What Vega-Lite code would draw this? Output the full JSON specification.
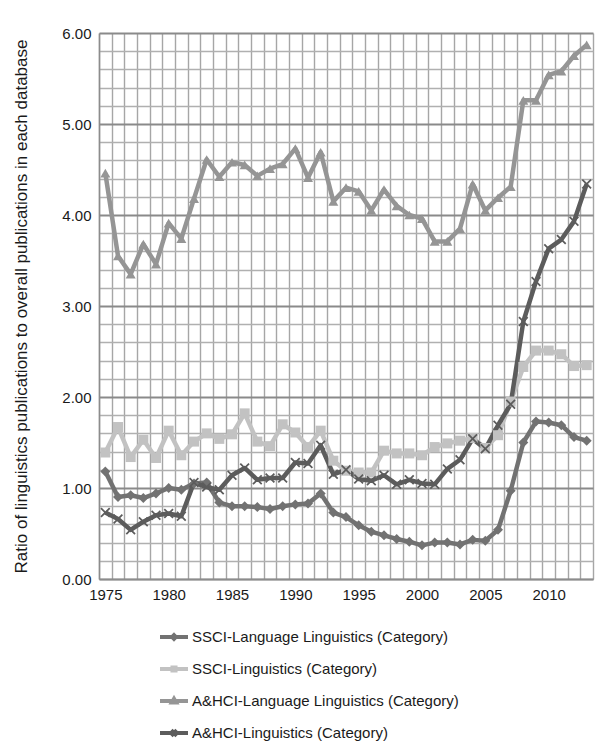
{
  "$schema": "https://vega.github.io/schema/vega-lite/v6.json",
  "width": 494,
  "height": 546,
  "autosize": {"type": "none"},
  "padding": {"left": 99, "top": 33, "right": 10, "bottom": 176},
  "background": "white",
  "config": {
    "font": "Arial",
    "view": {"stroke": null},
    "axis": {"labelFont": "Arial", "titleFont": "Arial", "labelColor": "#1a1a1a", "titleColor": "#1a1a1a"},
    "legend": {"labelFont": "Arial"}
  },
  "data": {
    "values": [
      {"year":1975,"SSCI-Language Linguistics (Category)":1.18,"SSCI-Linguistics (Category)":1.39,"A&HCI-Language Linguistics (Category)":4.46,"A&HCI-Linguistics (Category)":0.73},
      {"year":1976,"SSCI-Language Linguistics (Category)":0.90,"SSCI-Linguistics (Category)":1.67,"A&HCI-Language Linguistics (Category)":3.55,"A&HCI-Linguistics (Category)":0.66},
      {"year":1977,"SSCI-Language Linguistics (Category)":0.92,"SSCI-Linguistics (Category)":1.34,"A&HCI-Language Linguistics (Category)":3.35,"A&HCI-Linguistics (Category)":0.54},
      {"year":1978,"SSCI-Language Linguistics (Category)":0.89,"SSCI-Linguistics (Category)":1.53,"A&HCI-Language Linguistics (Category)":3.68,"A&HCI-Linguistics (Category)":0.63},
      {"year":1979,"SSCI-Language Linguistics (Category)":0.94,"SSCI-Linguistics (Category)":1.33,"A&HCI-Language Linguistics (Category)":3.46,"A&HCI-Linguistics (Category)":0.70},
      {"year":1980,"SSCI-Language Linguistics (Category)":1.00,"SSCI-Linguistics (Category)":1.63,"A&HCI-Language Linguistics (Category)":3.91,"A&HCI-Linguistics (Category)":0.72},
      {"year":1981,"SSCI-Language Linguistics (Category)":0.98,"SSCI-Linguistics (Category)":1.36,"A&HCI-Language Linguistics (Category)":3.74,"A&HCI-Linguistics (Category)":0.69},
      {"year":1982,"SSCI-Language Linguistics (Category)":1.05,"SSCI-Linguistics (Category)":1.51,"A&HCI-Language Linguistics (Category)":4.18,"A&HCI-Linguistics (Category)":1.06},
      {"year":1983,"SSCI-Language Linguistics (Category)":1.06,"SSCI-Linguistics (Category)":1.60,"A&HCI-Language Linguistics (Category)":4.61,"A&HCI-Linguistics (Category)":1.01},
      {"year":1984,"SSCI-Language Linguistics (Category)":0.84,"SSCI-Linguistics (Category)":1.54,"A&HCI-Language Linguistics (Category)":4.42,"A&HCI-Linguistics (Category)":0.98},
      {"year":1985,"SSCI-Language Linguistics (Category)":0.80,"SSCI-Linguistics (Category)":1.59,"A&HCI-Language Linguistics (Category)":4.58,"A&HCI-Linguistics (Category)":1.14},
      {"year":1986,"SSCI-Language Linguistics (Category)":0.80,"SSCI-Linguistics (Category)":1.82,"A&HCI-Language Linguistics (Category)":4.55,"A&HCI-Linguistics (Category)":1.22},
      {"year":1987,"SSCI-Language Linguistics (Category)":0.79,"SSCI-Linguistics (Category)":1.51,"A&HCI-Language Linguistics (Category)":4.43,"A&HCI-Linguistics (Category)":1.09},
      {"year":1988,"SSCI-Language Linguistics (Category)":0.77,"SSCI-Linguistics (Category)":1.46,"A&HCI-Language Linguistics (Category)":4.51,"A&HCI-Linguistics (Category)":1.11},
      {"year":1989,"SSCI-Language Linguistics (Category)":0.80,"SSCI-Linguistics (Category)":1.70,"A&HCI-Language Linguistics (Category)":4.56,"A&HCI-Linguistics (Category)":1.11},
      {"year":1990,"SSCI-Language Linguistics (Category)":0.82,"SSCI-Linguistics (Category)":1.61,"A&HCI-Language Linguistics (Category)":4.73,"A&HCI-Linguistics (Category)":1.28},
      {"year":1991,"SSCI-Language Linguistics (Category)":0.83,"SSCI-Linguistics (Category)":1.45,"A&HCI-Language Linguistics (Category)":4.41,"A&HCI-Linguistics (Category)":1.27},
      {"year":1992,"SSCI-Language Linguistics (Category)":0.94,"SSCI-Linguistics (Category)":1.63,"A&HCI-Language Linguistics (Category)":4.69,"A&HCI-Linguistics (Category)":1.47},
      {"year":1993,"SSCI-Language Linguistics (Category)":0.73,"SSCI-Linguistics (Category)":1.30,"A&HCI-Language Linguistics (Category)":4.15,"A&HCI-Linguistics (Category)":1.15},
      {"year":1994,"SSCI-Language Linguistics (Category)":0.68,"SSCI-Linguistics (Category)":1.19,"A&HCI-Language Linguistics (Category)":4.30,"A&HCI-Linguistics (Category)":1.20},
      {"year":1995,"SSCI-Language Linguistics (Category)":0.59,"SSCI-Linguistics (Category)":1.17,"A&HCI-Language Linguistics (Category)":4.26,"A&HCI-Linguistics (Category)":1.10},
      {"year":1996,"SSCI-Language Linguistics (Category)":0.52,"SSCI-Linguistics (Category)":1.17,"A&HCI-Language Linguistics (Category)":4.05,"A&HCI-Linguistics (Category)":1.08},
      {"year":1997,"SSCI-Language Linguistics (Category)":0.48,"SSCI-Linguistics (Category)":1.41,"A&HCI-Language Linguistics (Category)":4.28,"A&HCI-Linguistics (Category)":1.14},
      {"year":1998,"SSCI-Language Linguistics (Category)":0.44,"SSCI-Linguistics (Category)":1.38,"A&HCI-Language Linguistics (Category)":4.10,"A&HCI-Linguistics (Category)":1.04},
      {"year":1999,"SSCI-Language Linguistics (Category)":0.41,"SSCI-Linguistics (Category)":1.38,"A&HCI-Language Linguistics (Category)":4.00,"A&HCI-Linguistics (Category)":1.09},
      {"year":2000,"SSCI-Language Linguistics (Category)":0.37,"SSCI-Linguistics (Category)":1.36,"A&HCI-Language Linguistics (Category)":3.96,"A&HCI-Linguistics (Category)":1.05},
      {"year":2001,"SSCI-Language Linguistics (Category)":0.40,"SSCI-Linguistics (Category)":1.45,"A&HCI-Language Linguistics (Category)":3.71,"A&HCI-Linguistics (Category)":1.04},
      {"year":2002,"SSCI-Language Linguistics (Category)":0.40,"SSCI-Linguistics (Category)":1.49,"A&HCI-Language Linguistics (Category)":3.71,"A&HCI-Linguistics (Category)":1.21},
      {"year":2003,"SSCI-Language Linguistics (Category)":0.38,"SSCI-Linguistics (Category)":1.52,"A&HCI-Language Linguistics (Category)":3.85,"A&HCI-Linguistics (Category)":1.31},
      {"year":2004,"SSCI-Language Linguistics (Category)":0.43,"SSCI-Linguistics (Category)":1.55,"A&HCI-Language Linguistics (Category)":4.34,"A&HCI-Linguistics (Category)":1.54},
      {"year":2005,"SSCI-Language Linguistics (Category)":0.42,"SSCI-Linguistics (Category)":1.44,"A&HCI-Language Linguistics (Category)":4.05,"A&HCI-Linguistics (Category)":1.43},
      {"year":2006,"SSCI-Language Linguistics (Category)":0.54,"SSCI-Linguistics (Category)":1.58,"A&HCI-Language Linguistics (Category)":4.19,"A&HCI-Linguistics (Category)":1.69},
      {"year":2007,"SSCI-Language Linguistics (Category)":0.97,"SSCI-Linguistics (Category)":1.95,"A&HCI-Language Linguistics (Category)":4.31,"A&HCI-Linguistics (Category)":1.92},
      {"year":2008,"SSCI-Language Linguistics (Category)":1.50,"SSCI-Linguistics (Category)":2.33,"A&HCI-Language Linguistics (Category)":5.26,"A&HCI-Linguistics (Category)":2.83},
      {"year":2009,"SSCI-Language Linguistics (Category)":1.73,"SSCI-Linguistics (Category)":2.51,"A&HCI-Language Linguistics (Category)":5.26,"A&HCI-Linguistics (Category)":3.27},
      {"year":2010,"SSCI-Language Linguistics (Category)":1.72,"SSCI-Linguistics (Category)":2.51,"A&HCI-Language Linguistics (Category)":5.54,"A&HCI-Linguistics (Category)":3.63},
      {"year":2011,"SSCI-Language Linguistics (Category)":1.69,"SSCI-Linguistics (Category)":2.47,"A&HCI-Language Linguistics (Category)":5.58,"A&HCI-Linguistics (Category)":3.73},
      {"year":2012,"SSCI-Language Linguistics (Category)":1.56,"SSCI-Linguistics (Category)":2.34,"A&HCI-Language Linguistics (Category)":5.75,"A&HCI-Linguistics (Category)":3.93},
      {"year":2013,"SSCI-Language Linguistics (Category)":1.52,"SSCI-Linguistics (Category)":2.35,"A&HCI-Language Linguistics (Category)":5.87,"A&HCI-Linguistics (Category)":4.34}
    ]
  },
  "transform": [
    {"fold": ["SSCI-Language Linguistics (Category)", "SSCI-Linguistics (Category)", "A&HCI-Language Linguistics (Category)", "A&HCI-Linguistics (Category)"], "as": ["series", "value"]}
  ],
  "encoding": {
    "x": {
      "field": "year", "type": "quantitative",
      "scale": {"domain": [1974.5, 2013.5], "nice": false, "zero": false},
      "axis": {
        "title": null,
        "values": [1974.5,1975,1975.5,1976,1976.5,1977,1977.5,1978,1978.5,1979,1979.5,1980,1980.5,1981,1981.5,1982,1982.5,1983,1983.5,1984,1984.5,1985,1985.5,1986,1986.5,1987,1987.5,1988,1988.5,1989,1989.5,1990,1990.5,1991,1991.5,1992,1992.5,1993,1993.5,1994,1994.5,1995,1995.5,1996,1996.5,1997,1997.5,1998,1998.5,1999,1999.5,2000,2000.5,2001,2001.5,2002,2002.5,2003,2003.5,2004,2004.5,2005,2005.5,2006,2006.5,2007,2007.5,2008,2008.5,2009,2009.5,2010,2010.5,2011,2011.5,2012,2012.5,2013,2013.5],
        "labelExpr": "datum.value % 5 === 0 ? '' + datum.value : ''",
        "labelOverlap": false,
        "labelBound": false,
        "labelFlush": false,
        "labelFontSize": 15,
        "labelPadding": 8,
        "ticks": false,
        "grid": true,
        "gridColor": "#a6a6a6",
        "gridWidth": 1.4,
        "gridOpacity": {"condition": {"test": "datum.value % 1 === 0", "value": 0}, "value": 1},
        "domainColor": "#8c8c8c",
        "domainWidth": 1.5
      }
    },
    "y": {
      "field": "value", "type": "quantitative",
      "scale": {"domain": [0, 6], "nice": false},
      "axis": {
        "title": "Ratio of linguistics publications to overall publications in each database",
        "titleFontSize": 17,
        "titleFontWeight": "normal",
        "titlePadding": 31,
        "titleLimit": 800,
        "values": [0,0.2,0.4,0.6,0.8,1,1.2,1.4,1.6,1.8,2,2.2,2.4,2.6,2.8,3,3.2,3.4,3.6,3.8,4,4.2,4.4,4.6,4.8,5,5.2,5.4,5.6,5.8,6],
        "labelExpr": "abs(datum.value - round(datum.value)) < 0.001 ? format(datum.value, '.2f') : ''",
        "labelOverlap": false,
        "labelBound": false,
        "labelFlush": false,
        "labelFontSize": 15,
        "labelPadding": 8,
        "ticks": false,
        "grid": true,
        "gridColor": {"condition": {"test": "abs(datum.value - round(datum.value)) < 0.001", "value": "#8a8a8a"}, "value": "#b0b0b0"},
        "gridWidth": {"condition": {"test": "abs(datum.value - round(datum.value)) < 0.001", "value": 1.8}, "value": 1.4},
        "domainColor": "#8c8c8c",
        "domainWidth": 1.5
      }
    }
  },
  "layer": [
    {
      "mark": {"type": "line", "strokeWidth": 4.5, "strokeJoin": "round"},
      "encoding": {
        "color": {
          "field": "series", "type": "nominal",
          "scale": {"domain": ["SSCI-Language Linguistics (Category)", "SSCI-Linguistics (Category)", "A&HCI-Language Linguistics (Category)", "A&HCI-Linguistics (Category)"], "range": ["#727272", "#c2c2c2", "#959595", "#5c5c5c"]},
          "legend": null
        }
      }
    },
    {
      "mark": {"type": "point", "filled": true, "opacity": 1, "size": 100},
      "encoding": {
        "color": {
          "field": "series", "type": "nominal",
          "scale": {"domain": ["SSCI-Language Linguistics (Category)", "SSCI-Linguistics (Category)", "A&HCI-Language Linguistics (Category)", "A&HCI-Linguistics (Category)"], "range": ["#727272", "#c2c2c2", "#959595", "#5c5c5c"]},
          "legend": null
        },
        "shape": {
          "field": "series", "type": "nominal",
          "scale": {"domain": ["SSCI-Language Linguistics (Category)", "SSCI-Linguistics (Category)", "A&HCI-Language Linguistics (Category)", "A&HCI-Linguistics (Category)"], "range": ["diamond", "square", "triangle-up", "M-1,-0.75L-0.75,-1L0,-0.25L0.75,-1L1,-0.75L0.25,0L1,0.75L0.75,1L0,0.25L-0.75,1L-1,0.75L-0.25,0Z"]},
          "legend": null
        }
      }
    },
    {
      "transform": [{"filter": "false"}],
      "mark": {"type": "point", "filled": false, "opacity": 1, "strokeWidth": 4},
      "encoding": {
        "color": {
          "field": "series", "type": "nominal",
          "scale": {"domain": ["SSCI-Language Linguistics (Category)", "SSCI-Linguistics (Category)", "A&HCI-Language Linguistics (Category)", "A&HCI-Linguistics (Category)"], "range": ["#727272", "#c2c2c2", "#959595", "#5c5c5c"]},
          "legend": {
            "title": null, "orient": "none", "legendX": 59, "legendY": 588,
            "direction": "vertical", "labelFontSize": 15, "labelColor": "#1a1a1a",
            "symbolSize": 784, "symbolStrokeWidth": 4, "rowPadding": 6, "labelOffset": 2, "padding": 0, "labelLimit": 400
          }
        },
        "shape": {
          "field": "series", "type": "nominal",
          "scale": {"domain": ["SSCI-Language Linguistics (Category)", "SSCI-Linguistics (Category)", "A&HCI-Language Linguistics (Category)", "A&HCI-Linguistics (Category)"], "range": ["M-1,0H1M0,-0.13L0.13,0L0,0.13L-0.13,0Z", "M-1,0H1M-0.11,-0.11H0.11V0.11H-0.11Z", "M-1,0H1M-0.15,0.1L0,-0.16L0.15,0.1Z", "M-1,0H1M-0.2,-0.2L0.2,0.2M-0.2,0.2L0.2,-0.2"]},
          "legend": {
            "title": null, "orient": "none", "legendX": 59, "legendY": 588,
            "direction": "vertical", "labelFontSize": 15, "labelColor": "#1a1a1a",
            "symbolSize": 784, "symbolStrokeWidth": 4, "rowPadding": 6, "labelOffset": 2, "padding": 0, "labelLimit": 400
          }
        }
      }
    }
  ],
  "resolve": {"scale": {"color": "independent", "shape": "independent"}}
}
